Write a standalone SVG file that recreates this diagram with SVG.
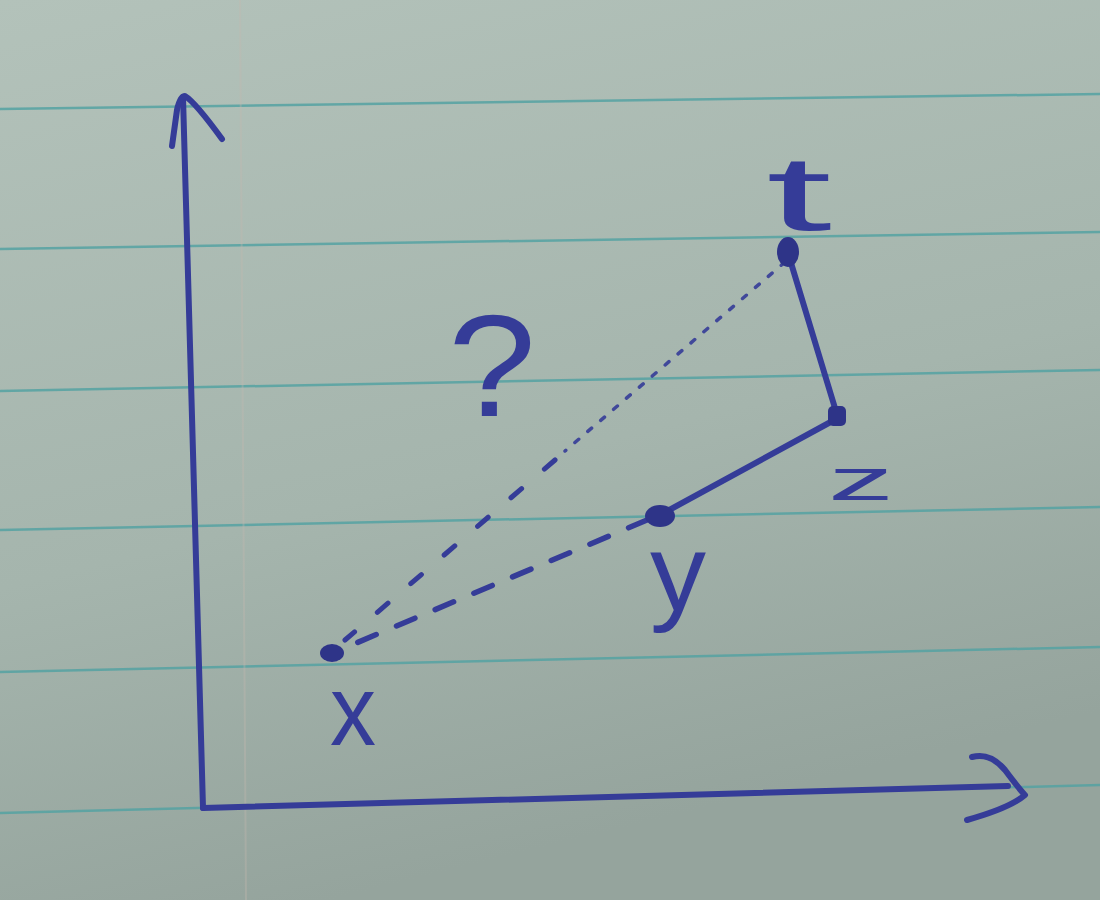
<svg xmlns="http://www.w3.org/2000/svg" width="1100" height="900" viewBox="0 0 1100 900">
<defs>
<linearGradient id="paper" x1="0" y1="0" x2="0.3" y2="1">
<stop offset="0" stop-color="#b3c2ba"/>
<stop offset="0.6" stop-color="#a5b5ad"/>
<stop offset="1" stop-color="#95a49d"/>
</linearGradient>
<style>
.rule{stroke:#55a2a2;stroke-width:2.5;fill:none;opacity:0.85}
.ink{stroke:#353c98;fill:none;stroke-linecap:round;stroke-linejoin:round}
.axis{stroke-width:6}
.solid{stroke-width:6}
.dash{stroke-width:5.5;stroke-dasharray:20 22}
.dot{stroke-width:3.5;stroke-dasharray:5 12;opacity:0.9}
.blob{fill:#2e3488}
.lbl{font-family:"Liberation Sans",Arial,sans-serif;fill:#353c98}
</style>
</defs>
<rect width="1100" height="900" fill="url(#paper)"/>
<g id="paper-lines">
<line class="rule" x1="0" y1="109" x2="1100" y2="94"/>
<line class="rule" x1="0" y1="249" x2="1100" y2="232"/>
<line class="rule" x1="0" y1="391" x2="1100" y2="370"/>
<line class="rule" x1="0" y1="530" x2="1100" y2="507"/>
<line class="rule" x1="0" y1="672" x2="1100" y2="647"/>
<line class="rule" x1="0" y1="813" x2="1100" y2="785"/>
<line x1="240" y1="0" x2="246" y2="900" stroke="#c4b9b0" stroke-width="2" opacity="0.35"/>
</g>
<g id="axes" class="ink">
<path class="axis" d="M203 808 L183 97"/>
<path class="axis" d="M172 146 L177 110 Q180 96 185 96 Q195 102 222 139"/>
<path class="axis" d="M203 808 L1008 786"/>
<path class="axis" d="M972 757 Q990 752 1005 770 Q1020 790 1025 795 Q1010 808 967 820"/>
</g>
<g id="connectors" class="ink">
<path class="solid" d="M788 253 L838 418"/>
<path class="solid" d="M838 418 L660 515"/>
<path class="dash" d="M647 520 L335 652"/>
<path class="dot" d="M785 262 L565 451"/>
<path class="dash" style="stroke-width:5;stroke-dasharray:14 30" d="M555 460 L345 640"/>
</g>
<g id="node-t">
<ellipse class="blob" cx="788" cy="252" rx="11" ry="15"/>
<text class="lbl" x="766" y="230" font-size="105" textLength="66" lengthAdjust="spacingAndGlyphs">t</text>
</g>
<g id="node-z">
<rect class="blob" x="828" y="406" width="18" height="20" rx="5"/>
<text class="lbl" x="828" y="500" font-size="60" textLength="66" lengthAdjust="spacingAndGlyphs">z</text>
</g>
<g id="node-y">
<ellipse class="blob" cx="660" cy="516" rx="15" ry="11"/>
<text class="lbl" x="650" y="610" font-size="110" textLength="56" lengthAdjust="spacingAndGlyphs">y</text>
</g>
<g id="node-x">
<ellipse class="blob" cx="332" cy="653" rx="12" ry="9"/>
<text class="lbl" x="330" y="745" font-size="100" textLength="46" lengthAdjust="spacingAndGlyphs">x</text>
</g>
<g id="node-q">
<text class="lbl" x="448" y="416" font-size="145" textLength="88" lengthAdjust="spacingAndGlyphs">?</text>
</g>
</svg>
